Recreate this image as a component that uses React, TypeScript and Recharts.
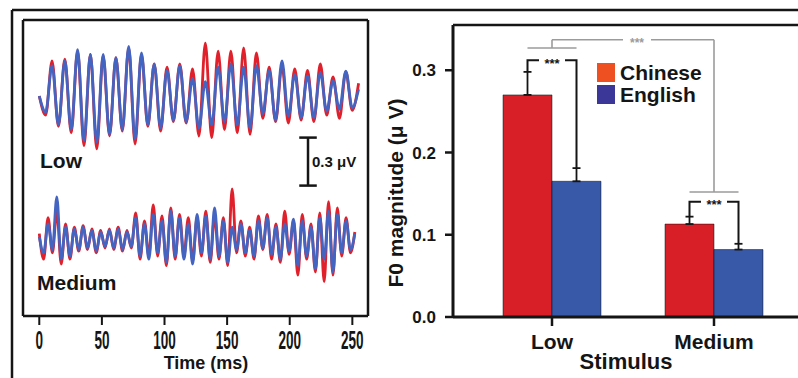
import {
  LineChart,
  Line,
  XAxis,
  YAxis,
  ReferenceLine,
  BarChart,
  Bar,
  ErrorBar,
  LabelList,
  Legend,
} from 'recharts';

const FONT = 'Arial, "Liberation Sans", Helvetica, sans-serif';
const INK = '#151515';
const GRAY = '#9b9b9b';

// left panel: F0 response waveforms (μV), one value per half cycle
const TIME_TICKS = [0, 50, 100, 150, 200, 250];
const LOW_STEP_MS = 5.1;
const LOW_CHINESE = [
  0,
  -0.12, 0.22, -0.19, 0.23, -0.23, 0.28, -0.31, 0.26, -0.33, 0.25,
  -0.25, 0.24, -0.22, 0.3, -0.3, 0.26, -0.19, 0.2, -0.22, 0.18,
  -0.16, 0.2, -0.17, 0.17, -0.25, 0.33, -0.26, 0.28, -0.21, 0.28,
  -0.23, 0.3, -0.24, 0.27, -0.14, 0.18, -0.16, 0.19, -0.17, 0.17,
  -0.15, 0.16, -0.16, 0.2, -0.12, 0.12, -0.14, 0.15, -0.09, 0.08,
];
const LOW_ENGLISH = [
  0,
  -0.1, 0.19, -0.18, 0.22, -0.21, 0.29, -0.28, 0.26, -0.29, 0.26,
  -0.24, 0.24, -0.21, 0.31, -0.27, 0.27, -0.18, 0.2, -0.2, 0.16,
  -0.15, 0.19, -0.16, 0.11, -0.2, 0.09, -0.18, 0.18, -0.16, 0.2,
  -0.18, 0.18, -0.2, 0.19, -0.11, 0.16, -0.15, 0.22, -0.125, 0.135,
  -0.135, 0.125, -0.135, 0.146, -0.094, 0.094, -0.083, 0.156, -0.073, 0.042,
];
const MEDIUM_STEP_MS = 3.5;
const MEDIUM_CHINESE = [
  0.04, -0.12, 0.14, -0.08, 0.18, -0.15, 0.1, -0.12,
  0.08, -0.07, 0.09, -0.06, 0.07, -0.08, 0.06, -0.05, 0.07, -0.06, 0.08, -0.07, 0.06, -0.05,
  0.17, -0.12, 0.12, -0.1, 0.22, -0.1, 0.15, -0.16, 0.2, -0.12, 0.16, -0.1, 0.14, -0.13,
  0.14, -0.1, 0.18, -0.14, 0.15, -0.12, 0.14, -0.16, 0.32, -0.08, 0.12, -0.1, 0.08, -0.12,
  0.15, -0.06, 0.16, -0.12, 0.1, -0.14, 0.18, -0.09, 0.12,
  -0.22, 0.16, -0.12, 0.1, -0.2, 0.17, -0.26, 0.24, -0.22, 0.2, -0.1, 0.14, -0.08, 0.05,
];
const MEDIUM_ENGLISH = [
  0.02, -0.08, 0.1, -0.06, 0.27, -0.12, 0.08, -0.1,
  0.07, -0.06, 0.08, -0.05, 0.06, -0.07, 0.05, -0.04, 0.06, -0.05, 0.07, -0.06, 0.05, -0.04,
  0.14, -0.1, 0.1, -0.12, 0.16, -0.08, 0.12, -0.14, 0.18, -0.1, 0.14, -0.12, 0.1, -0.15,
  0.16, -0.08, 0.15, -0.12, 0.2, -0.1, 0.12, -0.14, 0.08, -0.06, 0.1, -0.08, 0.06, -0.1,
  0.12, -0.05, 0.14, -0.09, 0.08, -0.12, 0.1, -0.07, 0.13,
  -0.16, 0.12, -0.1, 0.08, -0.18, 0.14, -0.12, 0.18, -0.2, 0.16, -0.08, 0.12, -0.06, 0.04,
];
const SCALE_BAR_UV = 0.3;

// right panel: mean F0 magnitude (μV) with SE
const STIMULI = ['Low', 'Medium'];
const CHINESE = [0.27, 0.113];
const CHINESE_SE = [0.028, 0.009];
const ENGLISH = [0.165, 0.082];
const ENGLISH_SE = [0.016, 0.007];
const F0_TICKS = [0, 0.1, 0.2, 0.3];

// layout (data units)
const TIME_DOMAIN = [-13, 262.5];
const UV_DOMAIN = [-0.475, 1.375];
const LOW_BASELINE = 0.9;
const SCALE_BAR_T = 214.6;
const SCALE_BAR_MID = 0.49;
const F0_MAX = 0.355;
const PAIR_LEVEL = [0.312, 0.14];
const GROUP_LEVEL = [0.327, 0.152];
const ACROSS_LEVEL = 0.337;

const RED_TRACE = '#e0202a';
const BLUE_TRACE = '#4464c2';
const LEGEND_COLORS = ['#ee5022', '#3a3798'];

const toTrace = (vals: number[], step: number, shift = 0) =>
  vals.map((v, i) => ({ t: Math.round(i * step * 100) / 100, v: v + shift }));

const lowChinese = toTrace(LOW_CHINESE, LOW_STEP_MS, LOW_BASELINE);
const lowEnglish = toTrace(LOW_ENGLISH, LOW_STEP_MS, LOW_BASELINE);
const medChinese = toTrace(MEDIUM_CHINESE, MEDIUM_STEP_MS);
const medEnglish = toTrace(MEDIUM_ENGLISH, MEDIUM_STEP_MS);

const barData = STIMULI.map((s, i) => ({
  stimulus: s,
  Chinese: CHINESE[i],
  chineseErr: [0, CHINESE_SE[i]],
  English: ENGLISH[i],
  englishErr: [0, ENGLISH_SE[i]],
}));

const boxLine = { stroke: INK, strokeWidth: 2.5 };

function TimeTick({ x, y, payload }: any) {
  return (
    <g transform={`translate(${x},${y})`}>
      <text
        transform="scale(0.52,1)"
        y={22}
        textAnchor="middle"
        fontSize={26}
        fontWeight="bold"
        fill={INK}
        fontFamily={FONT}
      >
        {payload.value}
      </text>
    </g>
  );
}

function TimeTitle() {
  return (
    <text x={206} y={369} textAnchor="middle" fontSize={18} fontWeight="bold" fill={INK} fontFamily={FONT}>
      Time (ms)
    </text>
  );
}

function Waveforms() {
  const trace = { type: 'monotone' as const, dataKey: 'v', dot: false, strokeWidth: 2.8, isAnimationActive: false };
  const capHalf = 7;
  const lo = SCALE_BAR_MID - SCALE_BAR_UV / 2;
  const hi = SCALE_BAR_MID + SCALE_BAR_UV / 2;
  return (
    <LineChart width={380} height={378} margin={{ top: 20, right: 12, bottom: 0, left: 23 }} style={{ fontFamily: FONT }}>
      <XAxis
        type="number"
        dataKey="t"
        domain={TIME_DOMAIN}
        ticks={TIME_TICKS}
        allowDataOverflow
        height={62}
        axisLine={boxLine}
        tickLine={{ stroke: INK, strokeWidth: 2 }}
        tickSize={9}
        tickMargin={2}
        tick={<TimeTick />}
        label={TimeTitle}
      />
      <YAxis type="number" domain={UV_DOMAIN} allowDataOverflow hide />

      <ReferenceLine y={UV_DOMAIN[1]} stroke={INK} strokeWidth={2.5} />
      <ReferenceLine x={TIME_DOMAIN[0]} stroke={INK} strokeWidth={2.5} />
      <ReferenceLine x={TIME_DOMAIN[1]} stroke={INK} strokeWidth={2.5} />

      <Line {...trace} data={lowChinese} stroke={RED_TRACE} />
      <Line {...trace} data={lowEnglish} stroke={BLUE_TRACE} />
      <Line {...trace} data={medChinese} stroke={RED_TRACE} />
      <Line {...trace} data={medEnglish} stroke={BLUE_TRACE} />

      <ReferenceLine
        segment={[{ x: SCALE_BAR_T, y: lo }, { x: SCALE_BAR_T, y: hi }]}
        stroke={INK}
        strokeWidth={2.5}
        label={{ value: '0.3 μV', position: 'right', offset: 4, fontSize: 15, fontWeight: 'bold', fill: INK }}
      />
      <ReferenceLine segment={[{ x: SCALE_BAR_T - capHalf, y: hi }, { x: SCALE_BAR_T + capHalf, y: hi }]} stroke={INK} strokeWidth={2.5} />
      <ReferenceLine segment={[{ x: SCALE_BAR_T - capHalf, y: lo }, { x: SCALE_BAR_T + capHalf, y: lo }]} stroke={INK} strokeWidth={2.5} />
    </LineChart>
  );
}

function PairBracket(props: any) {
  const i = props.index;
  const vb = props.viewBox || props;
  const { x, y, width, height } = vb;
  if (i == null || [x, y, width, height].some((v) => typeof v !== 'number')) return null;
  const k = height / ENGLISH[i];
  const base = y + height;
  const py = (v: number) => base - v * k;
  const left = x - width / 2;
  const right = x + width / 2;
  const yl = py(PAIR_LEVEL[i]);
  const yg = py(GROUP_LEVEL[i]);
  return (
    <g>
      <line x1={left} x2={right} y1={yg} y2={yg} stroke={GRAY} strokeWidth={1.6} />
      <polyline
        points={`${left},${py(CHINESE[i] + CHINESE_SE[i])} ${left},${yl} ${x - 13},${yl}`}
        fill="none"
        stroke={INK}
        strokeWidth={2}
      />
      <polyline
        points={`${x + 13},${yl} ${right},${yl} ${right},${py(ENGLISH[i] + ENGLISH_SE[i])}`}
        fill="none"
        stroke={INK}
        strokeWidth={2}
      />
      <text x={x} y={yl + 7.5} textAnchor="middle" fontSize={13} fontWeight="bold" fill={INK} fontFamily={FONT}>
        ***
      </text>
    </g>
  );
}

function AcrossLabel(props: any) {
  const vb = props.viewBox;
  if (!vb) return null;
  const cx = vb.x + vb.width / 2 + 4;
  const cy = vb.y;
  return (
    <g>
      <rect x={cx - 14} y={cy - 3} width={28} height={6} fill="#fff" />
      <text x={cx} y={cy + 7} textAnchor="middle" fontSize={12} fontWeight="bold" fill={GRAY} fontFamily={FONT}>
        ***
      </text>
    </g>
  );
}

function YTitle() {
  return (
    <text
      transform="translate(33,193) rotate(-90)"
      textAnchor="middle"
      fontSize={21}
      fontWeight="bold"
      fill={INK}
      fontFamily={FONT}
    >
      F0 magnitude (μ V)
    </text>
  );
}

function StimulusTitle() {
  return (
    <text x={256} y={369} textAnchor="middle" fontSize={22} fontWeight="bold" fill={INK} fontFamily={FONT}>
      Stimulus
    </text>
  );
}

function LegendBox(props: any) {
  const names: string[] = (props.payload || []).map((p: any) => p.value);
  const items = names.length ? names : ['Chinese', 'English'];
  return (
    <div style={{ fontFamily: FONT, fontWeight: 'bold', fontSize: 21, color: INK }}>
      {items.map((name, i) => (
        <div key={name} style={{ display: 'flex', alignItems: 'center', height: 21.5 }}>
          <span style={{ width: 18, height: 19, background: LEGEND_COLORS[i], marginRight: 5, display: 'inline-block' }} />
          <span style={{ lineHeight: '21px' }}>{name}</span>
        </div>
      ))}
    </div>
  );
}

function MagnitudeBars() {
  return (
    <BarChart
      width={443}
      height={378}
      data={barData}
      margin={{ top: 25, right: 0, bottom: 0, left: 0 }}
      barCategoryGap={32}
      barGap={0}
      style={{ fontFamily: FONT }}
    >
      <XAxis
        dataKey="stimulus"
        padding={{ left: 18, right: 18 }}
        height={61}
        axisLine={{ stroke: INK, strokeWidth: 3 }}
        tickLine={{ stroke: INK, strokeWidth: 2.5 }}
        tickSize={9}
        tickMargin={8}
        tick={{ fontSize: 21, fontWeight: 'bold', fill: INK }}
        label={StimulusTitle}
      />
      <YAxis
        domain={[0, F0_MAX]}
        ticks={F0_TICKS}
        tickFormatter={(v: number) => v.toFixed(1)}
        width={83}
        axisLine={{ stroke: INK, strokeWidth: 3 }}
        tickLine={{ stroke: INK, strokeWidth: 2.5 }}
        tickSize={8}
        tickMargin={9}
        tick={{ fontSize: 17, fontWeight: 'bold', fill: INK }}
        label={YTitle}
      />
      <ReferenceLine y={F0_MAX} stroke={INK} strokeWidth={2.5} />
      <Legend
        layout="vertical"
        align="center"
        verticalAlign="middle"
        wrapperStyle={{ left: 227, top: 62, width: 'auto', height: 'auto' }}
        content={LegendBox}
      />
      <Bar dataKey="Chinese" fill="#d81f27" stroke="rgba(0,0,0,0.45)" strokeWidth={1} isAnimationActive={false}>
        <ErrorBar dataKey="chineseErr" direction="y" width={4} stroke={INK} strokeWidth={1.8} />
      </Bar>
      <Bar dataKey="English" fill="#3858a8" stroke="rgba(0,0,0,0.45)" strokeWidth={1} isAnimationActive={false}>
        <ErrorBar dataKey="englishErr" direction="y" width={4} stroke={INK} strokeWidth={1.8} />
        <LabelList dataKey="English" content={PairBracket} />
      </Bar>
      <ReferenceLine segment={[{ x: 'Low', y: ACROSS_LEVEL }, { x: 'Medium', y: ACROSS_LEVEL }]} stroke={GRAY} strokeWidth={1.6} label={AcrossLabel} />
      <ReferenceLine segment={[{ x: 'Low', y: ACROSS_LEVEL }, { x: 'Low', y: GROUP_LEVEL[0] }]} stroke={GRAY} strokeWidth={1.6} />
      <ReferenceLine segment={[{ x: 'Medium', y: ACROSS_LEVEL }, { x: 'Medium', y: GROUP_LEVEL[1] }]} stroke={GRAY} strokeWidth={1.6} />
    </BarChart>
  );
}

export default function App() {
  return (
    <div style={{ position: 'absolute', left: 0, top: 0, width: 798, height: 378, overflow: 'hidden', background: '#fff' }}>
      <div style={{ position: 'absolute', left: 0, top: 0 }}>
        <Waveforms />
      </div>
      <div style={{ position: 'absolute', left: 370, top: 0 }}>
        <MagnitudeBars />
      </div>
      <svg width={798} height={378} style={{ position: 'absolute', left: 0, top: 0, pointerEvents: 'none' }}>
        <line x1={12} y1={10} x2={798} y2={10} stroke={INK} strokeWidth={2.5} />
        <line x1={12} y1={10} x2={12} y2={378} stroke={INK} strokeWidth={2.5} />
        <text x={40} y={168} fontSize={21} fontWeight="bold" fontFamily={FONT} fill={INK}>
          Low
        </text>
        <text x={37} y={290} fontSize={21} fontWeight="bold" fontFamily={FONT} fill={INK}>
          Medium
        </text>
      </svg>
    </div>
  );
}
